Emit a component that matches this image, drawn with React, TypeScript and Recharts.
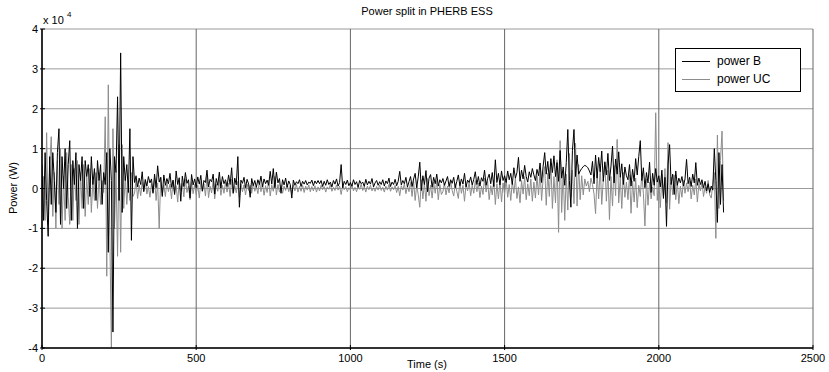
import { LineChart, Line, XAxis, YAxis, CartesianGrid } from "recharts";

document.body.style.margin = "0";

// sample step of the logged signals (s)
const sampleStep = 5;

// power B (kW), t = 0 .. 295 s
const powerB_0 = [
  6, -8, 9, -3, -12, 8, -4, 9, 2, -6,
  9, 15, -9, 8, 0, 10, -5, 6, 12, -8,
  7, 1, 9, -10, 6, 2, 8, -5, 7, 3,
  6, -2, 8, 1, 5, -3, 7, 2, 6, -4,
  4, 1, 9, -16, 10, 2, -36, 8, 4, 23,
  -3, 34, -6, 8, 2, 6, -1, 15, -13, 8,
];
// power B (kW), t = 300 .. 895 s
const powerB_300 = [
  1.5, 3.2, 0.4, 2.6, 1, 4.2, -0.8, 2.2, 0.6, 3, 1.4, 2.4, -1.2, 3.6, 0.2, 5.7, 1.6, 2.8, -2, 3.4,
  0.8, 2.5, 1.2, 3.8, 0.3, 2.1, -1.5, 4.4, 1, 2.7, -3.2, 3.1, 0.5, 4, 1.3, 2.2, -2.4, 3.5, 0.9, 2.4,
  0.2, 2.9, 1.1, 3.3, -0.6, 2, 1.5, 4.6, 0.4, 2.3, 1.7, 3.6, -1.4, 2.5, 0.8, 4.1, 0.1, 3, 1.2, 2.2,
  0.5, 3.4, 1, 5.2, -1.1, 2.6, 0.9, 8, -4.7, 2.1, 1.3, 2.8, 0.2, 2.3, 1.1, -2.2, 2.5, 0.7, 2, 0.3,
  2.2, 1, 3.1, 0.4, 2.4, 1.2, 2.1, 0.8, 4.3, 1.1, 5, 0.2, 4.1, 1.4, 2.5, -1.2, 2.2, 0.9, 2.6, 0.3,
  1.9, 1, -2.4, 2.1, 0.8, 1.7, 1.2, 2.2, 0.5, 1.8, 1.1, 2, 0.9, 1.6, 1.3, 2.1, 0.7, 1.9, 1.2, 2,
];
// power B (kW), t = 900 .. 1495 s
const powerB_900 = [
  1.2, 2, 0.5, 1.8, 0.8, 2.2, 1, 1.6, 0.4, 2, 1.1, 2.4, 0.6, 1.5, 6, 0.2, 1.8, 1, 2.1, 0.7,
  1.5, 0.6, 2.2, 1, 1.7, 0.3, 2, 1.2, 1.6, 0.5, 2.3, 0.9, 1.8, 1.1, 2.5, 0.4, 1.4, 2, 0.8, 1.7,
  1, 2.2, 0.6, 1.9, 1.2, 2.6, 0.5, 1.6, 1, 2.3, 0.7, 1.8, 4.3, 0.9, 2, 1.2, 2.8, 0.4, 1.7, 3,
  0.5, 2.4, 3.8, 0.2, 2.9, 6.6, -0.5, 3.2, 1, 4.5, -0.8, 2.6, 3.5, 0.3, 2.8, 1.2, 3.6, 0.6, 2.2, 1.4,
  2.5, 0.8, 1.9, 3, 0.5, 2.2, 1.3, 2.8, 0.2, 1.8, 3.4, 0.7, 2.4, 1.1, 3.8, 0.4, 2.1, 1.5, 2.9, 0.9,
  2.3, 4.2, 1, 3, 0.6, 2.7, 1.8, 4.6, 0.8, 2.5, 3.6, 1.2, 4, 0.5, 7.2, 1.5, 3.8, 0.9, 4.4, 2,
];
// power B (kW), t = 1500 .. 2210 s
const powerB_1500 = [
  3.2, 1.5, 4.4, 2.2, 3.8, 1, 5.2, 2.6, 4, 7.8, 1.8, 4.6, 2.4, 5.8, 3, 1.6, 4.2, 2.8, 5, 3.4,
  2, 4.8, 3.2, 6.4, 1.5, 5.6, 9, 3.6, 6.8, 2.4, 7.5, 4, 8.2, 3, 6.5, 1.8, 9.5, 2.6, 5.4, 0.8,
  6.5, 14.8, 2, -4.7, 9.6, 14.8, 3, 8.4, 3.6, 4.4, 5, 5.5, 5.8, 5.6, 5.2, 4.4, 3.4, 6.8, 1.2, 8.4,
  2.6, 7.8, 4.2, 9.4, 1.8, 6.6, 3.4, 8.8, 2, 5.6, 10.6, 1.4, 7.4, 3.6, 9.2, 2.8, 6.2, 1, 5.4, 3.2,
  2.2, 6, 0.6, 4.8, 1.8, 7.5, 3.4, 8, 12, 2, 5.2, 0.2, 4, 1.4, 6.6, -1, 3.8, 0.8, 5, 1.6,
  3.2, 0.4, 4.6, -2.5, 2.8, -9.5, 6, 11, 1, 3.6, -1.5, 4.4, 0.8, 2.6, 1.4, 3, 0.6, 2.4, 7.3, 1.2,
  2.8, 0.5, 3.6, 1.4, 6.5, 0.8, 2.6, 1, 2.2, 0.2, 1.8, -0.6, 1.2, -1, 0.6, -0.4, 10, 2, -8.5, 9,
  -4, 6, -6,
];

// power UC (kW), t = 0 .. 295 s
const powerUC_0 = [
  -6, 3, -8, 14, -9, 6, 13, -7, 4, -10,
  7, -4, 10, -10, 3, -8, 9, -2, -9, 6,
  -8, 5, -3, 7, -9, 4, -5, 6, -7, 3,
  -4, 5, -6, 2, -3, 4, -5, 3, -4, 2,
  -1, 18, -22, 26, -12, -40, 15, -10, 4, -17,
  11, -16, 11, -5, 3, -4, 2, -3, 4, -2,
];
// power UC (kW), t = 300 .. 895 s
const powerUC_300 = [
  -1.2, 2.2, -2.5, 0.8, -1.8, 1.5, -0.6, 2.4, -1.4, 0.5, -2.2, 1.2, -0.9, 2.6, -3, 1.4, -10, 2.8, -1.6, 0.9,
  -2, 1.6, -0.8, 1.1, -2.6, 2, -1.2, 0.7, -3.4, 1.8, -0.5, 1.3, -2.1, 2.4, -1, 0.6, -2.8, 1.5, -1.3, 1,
  -1.5, 0.9, -2.4, 1.7, -0.8, 1.2, -1.9, 3.2, -2.3, 0.6, -1.1, 1.9, -2.6, 1.1, -0.7, 2.2, -1.7, 0.8, -1.2, 1.6,
  -0.9, 1.3, -2, 2.3, -1.4, 0.7, -1.1, 1.8, -2.2, 1.2, -0.8, 0.9, -1.6, 1.1, -0.5, 0.8, -1.2, 1.4, -0.7, 0.6,
  -1.3, 1.9, -0.8, 1.2, -1.7, 0.7, -1, 2.1, -1.9, 0.9, -0.7, 3, -1.6, 1, -0.9, 0.8, -1.2, 0.6, -0.5, 1.1,
  -0.8, 0.7, -1.1, 0.9, -0.6, 1, -0.9, 0.5, -0.7, 0.8, -1, 0.6, -0.4, 0.9, -0.8, 0.5, -0.6, 0.7, -0.9, 0.4,
];
// power UC (kW), t = 900 .. 1495 s
const powerUC_900 = [
  -0.6, 0.8, -0.3, 0.5, -0.9, 0.4, -0.2, 1, -0.7, 0.3, -0.5, 0.9, -0.4, 0.6, -1.5, 0.7, -0.3, 0.5, -0.8, 0.2,
  -0.4, 0.9, -0.6, 0.3, -0.8, 0.5, -0.2, 1.1, -0.5, 0.4, -0.9, 0.6, -0.3, 0.8, -0.6, 0.2, -0.7, 0.5, -0.4, 0.9,
  -0.5, 0.3, -0.9, 0.6, -0.4, 1, -0.7, 0.4, -0.3, 0.8, -1, 0.5, -1.8, 0.7, -0.4, 1.2, -1.3, 0.6, -0.8, 1.5,
  -2, 1.8, -3, 0.9, -1.6, -4.7, 2.2, -2.6, 1.4, -3.2, 2.5, -1.8, 0.8, -2.4, 1.6, -1.2, 2, -2.8, 1, -1.5,
  -0.8, 1.4, -1.6, 0.6, -1.1, 1.8, -0.5, -1.9, 1.2, -0.7, -2.5, 1.6, -1.2, 0.8, -3.2, 1.1, -0.6, 1.5, -1.8, 0.9,
  -1.2, 2, -0.8, 1.4, -2.3, 0.6, -1.5, 2.6, -0.9, 1.8, -2.8, 0.7, -1.6, 2.2, -4, 1.2, -2.6, 1.9, -3.4, 1.4,
];
// power UC (kW), t = 1500 .. 2210 s
const powerUC_1500 = [
  -1.5, 2.4, -2.2, 1, -3, 1.8, -1.2, 2.6, -2.5, 0.4, -3.6, 2, -1.4, 3, -2.8, 1.2, -1.8, 2.4, -3.2, 1.6,
  -2.4, 3.2, -1.6, 4.5, -3, 2.6, 5.5, -4.2, 3.8, -2, 6.4, -5, 3, -3.6, 7.2, -11, 12, -6, 4.2, -8,
  3.6, -5.4, 8.8, -2.2, 4.6, -3.8, 11.4, -4.4, 6, -2.8, 3.2, -1.6, 2.4, 0.6, 1.8, -0.8, 2.6, 1, -1.4, -6.3,
  3.8, -2.6, 5.4, -4, 2.2, 6.8, -3.2, 4.6, -7.8, 3, -4.4, 5.8, -1.8, 12.3, -3.6, 2.8, -5, 4, -2.2, 1.6,
  -2.8, 3.4, -6.2, 1.8, -3.4, 2.6, -4.8, 0.8, -2, 3.8, -1.2, -9.4, 2.4, -4.2, 1.6, -2.6, 0.4, -1.8, 19, -3,
  2.2, -4.8, 3.6, -2, 5, -3.6, 11.5, -5.2, 2.8, -1.6, 3.4, -2.8, 1.8, -3.8, 0.6, -2.2, 2, -1.2, 1.4, -0.8,
  1.8, -2.6, 0.8, -1.6, 2.4, -3.4, 1.2, -0.6, 1.6, -2, 0.4, -1.2, 2, -1.6, -2.4, 1, 4, -12.5, 13.4, -5,
  7, 14.4, -3,
];

const powerB = [...powerB_0, ...powerB_300, ...powerB_900, ...powerB_1500];
const powerUC = [...powerUC_0, ...powerUC_300, ...powerUC_900, ...powerUC_1500];

const timeTicks = [0, 500, 1000, 1500, 2000, 2500];
const powerTicks = [-40, -30, -20, -10, 0, 10, 20, 30, 40]; // kW, shown in 1e4 W

const seriesNames = ["power B", "power UC"];
const seriesColors = ["#000", "#8c8c8c"];

const data = powerB.map((b, i) => ({ t: i * sampleStep, b, uc: powerUC[i] }));

const FONT = "'Liberation Sans', Arial, sans-serif";

const BottomTick = (props: any) => {
  const { x, y, payload } = props;
  return (
    <g>
      <line x1={x} x2={x} y1={y} y2={y - 5} stroke="#000" />
      <text x={x} y={y + 12} textAnchor="middle" fontSize={11} fontFamily={FONT} fill="#000">
        {payload.value}
      </text>
    </g>
  );
};

const TopTick = (props: any) => {
  const { x, y } = props;
  return <line x1={x} x2={x} y1={y} y2={y + 5} stroke="#000" />;
};

const LeftTick = (props: any) => {
  const { x, y, payload } = props;
  return (
    <g>
      <line x1={x} x2={x + 5} y1={y} y2={y} stroke="#000" />
      <text x={x - 2} y={y + 4} textAnchor="end" fontSize={11} fontFamily={FONT} fill="#000">
        {payload.value / 10}
      </text>
    </g>
  );
};

const RightTick = (props: any) => {
  const { x, y } = props;
  return <line x1={x} x2={x - 5} y1={y} y2={y} stroke="#000" />;
};

const LegendBox = () => (
  <div
    style={{
      position: "absolute",
      left: 675,
      top: 48,
      border: "1px solid #000",
      background: "#fff",
      width: 126,
      height: 44,
      boxSizing: "border-box",
      fontFamily: FONT,
      fontSize: 12,
      padding: "3px 0 0 6px",
    }}
  >
    {seriesNames.map((name, i) => (
      <div key={name} style={{ display: "flex", alignItems: "center", height: 18 }}>
        <div style={{ width: 28, height: 1, background: seriesColors[i], marginRight: 7 }} />
        <span>{name}</span>
      </div>
    ))}
  </div>
);

export default function App() {
  return (
    <div style={{ position: "relative", width: 829, height: 372, background: "#fff" }}>
      <LineChart
        width={829}
        height={372}
        data={data}
        margin={{ top: 29, right: 16, bottom: 4, left: 12 }}
      >
        <CartesianGrid horizontal={true} vertical={false} stroke="#9a9a9a" />
        <CartesianGrid horizontal={false} vertical={true} stroke="#666" />
        <XAxis
          dataKey="t"
          type="number"
          domain={[0, 2500]}
          ticks={timeTicks}
          allowDataOverflow
          height={20}
          tickSize={0}
          tickLine={false}
          axisLine={{ stroke: "#000", strokeWidth: 1.5 }}
          tick={<BottomTick />}
        />
        <XAxis
          xAxisId="top"
          orientation="top"
          dataKey="t"
          type="number"
          domain={[0, 2500]}
          ticks={timeTicks}
          height={0}
          tickSize={0}
          tickLine={false}
          axisLine={{ stroke: "#000", strokeWidth: 1.5 }}
          tick={<TopTick />}
        />
        <YAxis
          type="number"
          domain={[-40, 40]}
          ticks={powerTicks}
          allowDataOverflow
          width={30}
          tickSize={0}
          tickLine={false}
          axisLine={{ stroke: "#000", strokeWidth: 1.5 }}
          tick={<LeftTick />}
        />
        <YAxis
          yAxisId="right"
          orientation="right"
          type="number"
          domain={[-40, 40]}
          ticks={powerTicks}
          width={0}
          tickSize={0}
          tickLine={false}
          axisLine={{ stroke: "#000", strokeWidth: 1.5 }}
          tick={<RightTick />}
        />
        <Line
          dataKey="uc"
          name={seriesNames[1]}
          stroke={seriesColors[1]}
          strokeWidth={1}
          dot={false}
          type="linear"
          isAnimationActive={false}
        />
        <Line
          dataKey="b"
          name={seriesNames[0]}
          stroke={seriesColors[0]}
          strokeWidth={1}
          dot={false}
          type="linear"
          isAnimationActive={false}
        />
      </LineChart>
      <LegendBox />
      <svg
        width={829}
        height={372}
        style={{ position: "absolute", left: 0, top: 0, pointerEvents: "none" }}
        fontFamily={FONT}
      >
        <text x={427} y={15} textAnchor="middle" fontSize={11}>
          Power split in PHERB ESS
        </text>
        <text x={43} y={24} fontSize={11}>
          x 10
        </text>
        <text x={67} y={17} fontSize={8}>
          4
        </text>
        <text x={17} y={188} textAnchor="middle" fontSize={11} transform="rotate(-90 17 188)">
          Power (W)
        </text>
        <text x={427} y={368} textAnchor="middle" fontSize={11}>
          Time (s)
        </text>
      </svg>
    </div>
  );
}
